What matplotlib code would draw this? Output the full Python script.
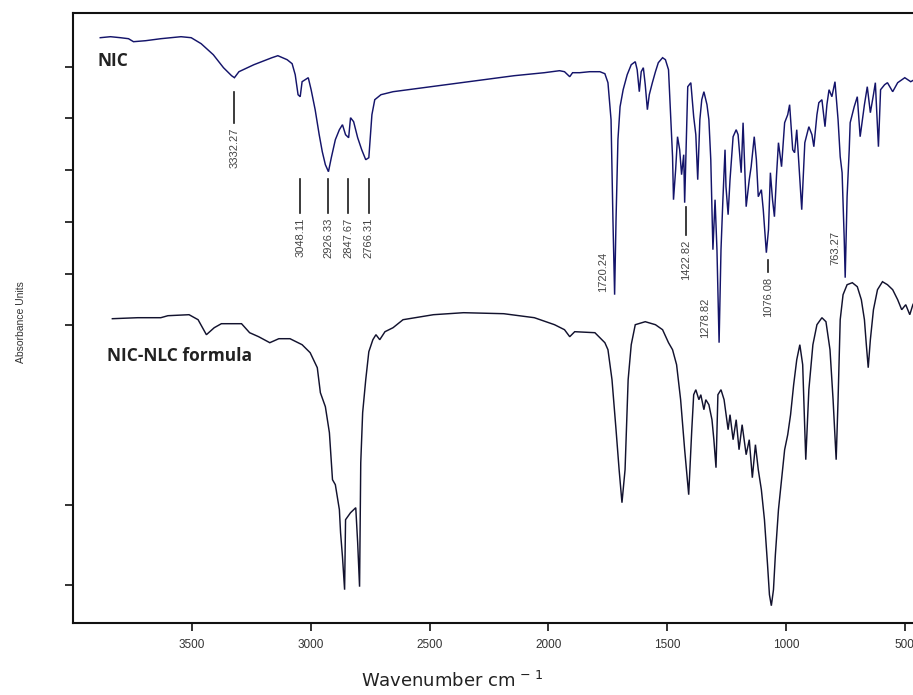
import matplotlib
matplotlib.use("Agg")
import matplotlib.pyplot as plt

# ---------------- data ----------------
nic_wn = [3887, 3844, 3802, 3768, 3747, 3696, 3632, 3547, 3504, 3462, 3411, 3368, 3334, 3322,
          3303, 3240, 3164, 3139, 3100, 3079, 3066, 3054, 3045, 3037, 3024, 3011, 2999, 2982,
          2965, 2952, 2939, 2926, 2914, 2897, 2880, 2867, 2854, 2841, 2833, 2820, 2803, 2786,
          2769, 2756, 2743, 2731, 2705, 2654, 2527, 2399, 2272, 2144, 2017, 1953, 1932, 1910,
          1898, 1868, 1826, 1783, 1762, 1749, 1736, 1728, 1721, 1715, 1707, 1698, 1685, 1668,
          1651, 1634, 1626, 1617, 1609, 1600, 1592, 1583, 1575, 1562, 1549, 1537, 1519, 1507,
          1494, 1486, 1477, 1473, 1464, 1456, 1447, 1439, 1430, 1426, 1413, 1400, 1388, 1379,
          1371, 1362, 1354, 1345, 1332, 1324, 1316, 1307, 1298, 1290, 1281, 1273, 1265, 1256,
          1252, 1243, 1235, 1222, 1209, 1201, 1188, 1180, 1167, 1154, 1146, 1133, 1124, 1116,
          1103, 1095, 1086, 1082, 1073, 1065, 1056, 1048, 1039, 1031, 1018, 1005, 992, 984,
          971, 963, 954, 941, 933, 920, 903, 890, 882, 869, 861, 848, 835, 827, 818, 806, 793,
          780, 771, 763, 754, 750, 742, 733, 729, 712, 699, 687, 669, 657, 644, 631, 623, 610,
          601, 584, 572, 550, 529, 499, 474, 444, 431]
nic_abs = [5.85, 5.86, 5.85, 5.84, 5.81, 5.82, 5.84, 5.86, 5.85, 5.79, 5.68, 5.55, 5.47, 5.45,
           5.51, 5.58, 5.65, 5.67, 5.63, 5.59, 5.48, 5.28, 5.26, 5.41, 5.43, 5.45, 5.33, 5.13,
           4.88, 4.71, 4.58, 4.51, 4.65, 4.83, 4.93, 4.98, 4.88, 4.85, 5.05, 5.01, 4.85, 4.73,
           4.63, 4.65, 5.08, 5.23, 5.28, 5.31, 5.35, 5.39, 5.43, 5.47, 5.50, 5.52, 5.51, 5.46,
           5.50, 5.50, 5.51, 5.51, 5.49, 5.40, 5.03, 4.03, 3.28, 4.03, 4.83, 5.16, 5.33, 5.48,
           5.58, 5.61, 5.53, 5.31, 5.51, 5.55, 5.38, 5.13, 5.28, 5.40, 5.51, 5.60, 5.65, 5.63,
           5.53, 5.13, 4.66, 4.23, 4.53, 4.86, 4.73, 4.48, 4.68, 4.20, 5.36, 5.40, 5.06, 4.88,
           4.43, 5.03, 5.23, 5.31, 5.18, 5.03, 4.63, 3.73, 4.23, 3.73, 2.80, 3.73, 4.23, 4.73,
           4.36, 4.08, 4.43, 4.86, 4.93, 4.88, 4.50, 5.00, 4.16, 4.43, 4.56, 4.86, 4.63, 4.26,
           4.33, 4.13, 3.83, 3.70, 3.93, 4.50, 4.23, 4.06, 4.48, 4.80, 4.56, 5.00, 5.08, 5.18,
           4.73, 4.70, 4.93, 4.43, 4.13, 4.80, 4.96, 4.88, 4.76, 5.08, 5.20, 5.23, 4.96, 5.18,
           5.33, 5.26, 5.41, 5.03, 4.66, 4.50, 3.83, 3.45, 4.26, 4.73, 5.00, 5.16, 5.26, 4.86,
           5.18, 5.36, 5.10, 5.28, 5.40, 4.76, 5.33, 5.38, 5.40, 5.31, 5.40, 5.45, 5.41, 5.45,
           5.47]

nlc_wn = [3836, 3729, 3632, 3602, 3513, 3475, 3440, 3407, 3377, 3292, 3258, 3220, 3173, 3135,
          3088, 3037, 3003, 2973, 2960, 2939, 2922, 2909, 2897, 2880, 2875, 2867, 2858, 2854,
          2833, 2811, 2803, 2795, 2790, 2782, 2769, 2756, 2739, 2726, 2710, 2688, 2654, 2612,
          2484, 2357, 2188, 2059, 1974, 1932, 1910, 1889, 1804, 1762, 1749, 1732, 1715, 1702,
          1690, 1677, 1664, 1651, 1634, 1592, 1549, 1519, 1494, 1477, 1460, 1443, 1426, 1409,
          1396, 1388, 1379, 1366, 1358, 1345, 1337, 1324, 1311, 1303, 1294, 1286, 1273, 1260,
          1243, 1235, 1222, 1209, 1197, 1184, 1167, 1154, 1141, 1128, 1116, 1103, 1090, 1077,
          1069, 1061, 1052, 1044, 1031, 1018, 1005, 992, 980, 967, 954, 941, 929, 916, 903,
          886, 869, 848, 831, 814, 801, 788, 780, 771, 759, 742, 720, 699, 682, 669, 661, 653,
          644, 631, 614, 593, 572, 550, 529, 512, 495, 478, 465, 453, 436]
nlc_abs = [3.04, 3.05, 3.05, 3.07, 3.08, 3.03, 2.88, 2.95, 2.99, 2.99, 2.90, 2.86, 2.80, 2.84,
           2.84, 2.78, 2.70, 2.55, 2.30, 2.16, 1.90, 1.43, 1.38, 1.13, 0.90, 0.66, 0.33, 1.03,
           1.10, 1.15, 0.80, 0.36, 1.60, 2.10, 2.43, 2.71, 2.83, 2.88, 2.83, 2.91, 2.95, 3.03,
           3.08, 3.10, 3.09, 3.05, 2.98, 2.93, 2.86, 2.91, 2.90, 2.80, 2.73, 2.43, 1.93, 1.53,
           1.20, 1.53, 2.43, 2.78, 2.98, 3.01, 2.98, 2.93, 2.80, 2.73, 2.58, 2.23, 1.73, 1.28,
           1.93, 2.28, 2.33, 2.23, 2.28, 2.13, 2.23, 2.18, 2.03, 1.83, 1.55, 2.28, 2.33, 2.23,
           1.93, 2.08, 1.83, 2.03, 1.73, 1.98, 1.68, 1.83, 1.45, 1.78, 1.53, 1.33, 1.03, 0.58,
           0.28, 0.17, 0.33, 0.68, 1.13, 1.43, 1.73, 1.88, 2.08, 2.38, 2.63, 2.78, 2.58, 1.63,
           2.33, 2.78, 2.98, 3.05, 3.01, 2.73, 2.23, 1.63, 2.23, 3.03, 3.28, 3.38, 3.40, 3.36,
           3.23, 3.03, 2.78, 2.55, 2.83, 3.13, 3.33, 3.41, 3.38, 3.33, 3.23, 3.13, 3.18, 3.08,
           3.18, 3.23, 3.28]

# peak annotations with a marker line: label, position, line top, line bottom
marked_labels = ["3332.27", "3048.11", "2926.33", "2847.67", "2766.31", "1422.82", "1076.08"]
marked_pos = [3323, 3045, 2927, 2842, 2757, 1422, 1075]
marked_top = [5.31, 4.44, 4.44, 4.44, 4.44, 4.16, 3.63]
marked_bot = [5.00, 4.10, 4.10, 4.10, 4.10, 3.88, 3.51]
# peak annotations beside the band (no marker line): label, position, bottom of text
side_labels = ["1720.24", "1278.82", "763.27"]
side_pos = [1770, 1341, 793]
side_bottom = [3.31, 2.85, 3.58]

x_ticks = [3500, 3000, 2500, 2000, 1500, 1000, 500]
y_ticks = [5.56, 5.05, 4.53, 4.01, 3.49, 2.98, 1.18, 0.38]

# ---------------- figure ----------------
W, H = 913, 695
fig = plt.figure(figsize=(W / 100, H / 100), dpi=100)
fig.patch.set_facecolor("white")
ax = fig.add_axes([72.7 / W, (H - 622.7) / H, (W - 72.7) / W + 0.01, (622.7 - 13.3) / H])

ax.plot(nic_wn, nic_abs, color="#14146a", lw=1.05, solid_joinstyle="miter")
ax.plot(nlc_wn, nlc_abs, color="#12122e", lw=1.05, solid_joinstyle="miter")

ax.set_xlim(4003, 426)
ax.set_ylim(0, 6.094)

for lab, p, t, b in zip(marked_labels, marked_pos, marked_top, marked_bot):
    ax.plot([p, p], [b, t], color="#1a1a1a", lw=1.2)
    ax.text(p, b - 0.05, lab, rotation=90, ha="center", va="top", fontsize=8,
            color="#444444", family="Liberation Sans")
for lab, p, b in zip(side_labels, side_pos, side_bottom):
    ax.text(p, b, lab, rotation=90, ha="center", va="bottom", fontsize=8,
            color="#444444", family="Liberation Sans")

ax.text(3899, 5.62, "NIC", fontsize=12.5, fontweight="bold", color="#222222",
        family="Open Sans", va="center", ha="left")
ax.text(3857, 2.67, "NIC-NLC formula", fontsize=12.5, fontweight="bold", color="#222222",
        family="Open Sans", va="center", ha="left")

ax.set_xticks(x_ticks)
ax.set_xticklabels([str(v) for v in x_ticks], fontsize=8.5, color="#333333",
                   family="Liberation Sans")
ax.set_yticks(y_ticks)
ax.set_yticklabels([])
ax.tick_params(axis="both", direction="out", length=6, width=1.2, color="#111111")
ax.tick_params(axis="x", pad=6)

for s in ["left", "bottom", "top"]:
    ax.spines[s].set_linewidth(1.5)
    ax.spines[s].set_color("#111111")
ax.spines["right"].set_visible(False)

fig.text(21 / W, 1 - 322 / H, "Absorbance Units", rotation=90, ha="center", va="center",
         fontsize=7.5, color="#333333", family="Liberation Sans")
fig.text(452 / W, 1 - 681 / H, r"Wavenumber cm$^{\,-\,1}$", ha="center", va="center",
         fontsize=13, color="#222222", family="DejaVu Sans")

fig.savefig("out.png", dpi=100, facecolor="white")
